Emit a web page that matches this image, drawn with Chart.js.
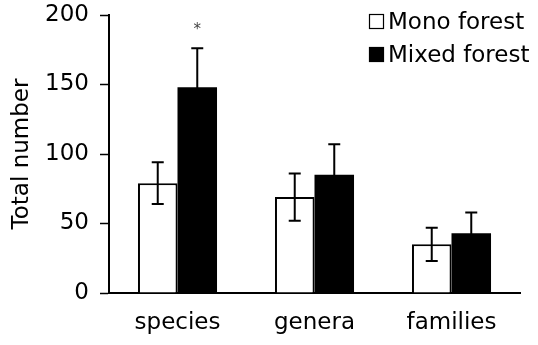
<!DOCTYPE html>
<html>
<head>
<meta charset="utf-8">
<script src="https://cdn.jsdelivr.net/npm/chart.js@4/dist/chart.umd.min.js"></script>
<style>
  html, body { margin: 0; padding: 0; background: #fff; }
  #wrap { width: 538px; height: 345px; }
</style>
</head>
<body>
<div id="wrap"><canvas id="c" width="538" height="345"></canvas></div>
<script>
// Taxonomic richness, mean ± error, by forest type
const categories = ['species', 'genera', 'families'];
const monoValues = [79, 69, 35];
const monoErrors = [15, 17, 12];
const mixedValues = [148, 85, 43];
const mixedErrors = [28, 22, 15];
const significance = ['*', '', ''];
const yTicks = [0, 50, 100, 150, 200];

const FONT = 'DejaVu Sans';
const FS = 23;

// Error bars with caps, drawn after the bars
const errorBarPlugin = {
  id: 'errorBars',
  afterDatasetsDraw(chart) {
    const ctx = chart.ctx;
    const y = chart.scales.y;
    chart.data.datasets.forEach((ds, di) => {
      const meta = chart.getDatasetMeta(di);
      meta.data.forEach((bar, i) => {
        const v = ds.data[i], e = ds.errors[i];
        const yTop = y.getPixelForValue(v + e);
        const yBot = y.getPixelForValue(v - e);
        const cap = 6;
        ctx.save();
        ctx.strokeStyle = '#000';
        ctx.lineWidth = 2;
        ctx.beginPath();
        ctx.moveTo(bar.x, yTop); ctx.lineTo(bar.x, yBot);
        ctx.moveTo(bar.x - cap, yTop); ctx.lineTo(bar.x + cap, yTop);
        ctx.moveTo(bar.x - cap, yBot); ctx.lineTo(bar.x + cap, yBot);
        ctx.stroke();
        ctx.restore();
      });
    });
    // significance marks above the mixed-forest bars
    const mixedMeta = chart.getDatasetMeta(1);
    const mixed = chart.data.datasets[1];
    significance.forEach((s, i) => {
      if (!s) return;
      const bar = mixedMeta.data[i];
      const yTop = y.getPixelForValue(mixed.data[i] + mixed.errors[i]);
      ctx.save();
      ctx.fillStyle = '#444';
      ctx.font = '15px ' + FONT;
      ctx.textAlign = 'center';
      ctx.textBaseline = 'alphabetic';
      ctx.fillText(s, bar.x, yTop - 14);
      ctx.restore();
    });
  }
};

// Legend in the upper right corner
const legendPlugin = {
  id: 'boxLegend',
  afterDraw(chart, args, opts) {
    const ctx = chart.ctx;
    ctx.save();
    ctx.font = FS + 'px ' + FONT;
    ctx.textBaseline = 'alphabetic';
    chart.data.datasets.forEach((ds, i) => {
      const by = opts.y + i * opts.rowGap;
      ctx.fillStyle = ds.backgroundColor;
      ctx.fillRect(opts.x, by - 15, 15, 15);
      ctx.strokeStyle = '#000';
      ctx.lineWidth = 1.2;
      ctx.strokeRect(opts.x + 0.5, by - 14.5, 14, 14);
      ctx.fillStyle = '#000';
      ctx.fillText(ds.label, opts.x + 19, by);
    });
    ctx.restore();
  }
};

new Chart(document.getElementById('c'), {
  type: 'bar',
  data: {
    labels: categories,
    datasets: [
      {
        label: 'Mono forest',
        data: monoValues,
        errors: monoErrors,
        backgroundColor: '#ffffff',
        borderColor: '#000000',
        borderWidth: 2,
        borderSkipped: 'bottom'
      },
      {
        label: 'Mixed forest',
        data: mixedValues,
        errors: mixedErrors,
        backgroundColor: '#000000',
        borderColor: '#000000',
        borderWidth: 0
      }
    ]
  },
  options: {
    responsive: false,
    animation: false,
    devicePixelRatio: 1,
    layout: { autoPadding: false, padding: { top: 15, right: 18, left: 0, bottom: 0 } },
    datasets: {
      bar: { categoryPercentage: 0.577, barPercentage: 1.0 }
    },
    plugins: {
      legend: { display: false },
      tooltip: { enabled: false },
      boxLegend: { x: 369, y: 29, rowGap: 33 }
    },
    scales: {
      x: {
        grid: { display: false, drawTicks: false },
        border: { display: true, color: '#000', width: 2 },
        ticks: { color: '#000', font: { family: FONT, size: FS }, padding: 16, maxRotation: 0 },
        afterFit(scale) { scale.height = 52; scale.paddingLeft = 0; scale.paddingRight = 0; }
      },
      y: {
        min: 0,
        max: 200,
        afterBuildTicks(scale) { scale.ticks = yTicks.map(v => ({ value: v })); },
        grid: { display: true, drawOnChartArea: false, drawTicks: true, tickLength: 9, color: '#000', tickWidth: 1.5 },
        border: { display: true, color: '#000', width: 2 },
        ticks: { color: '#000', font: { family: FONT, size: FS }, padding: 11 },
        title: { display: true, text: 'Total number', color: '#000', font: { family: FONT, size: FS }, padding: { top: 8, bottom: 0 } },
        afterFit(scale) { scale.width = 109; scale.paddingTop = 0; scale.paddingBottom = 0; }
      }
    }
  },
  plugins: [errorBarPlugin, legendPlugin]
});
</script>
</body>
</html>
